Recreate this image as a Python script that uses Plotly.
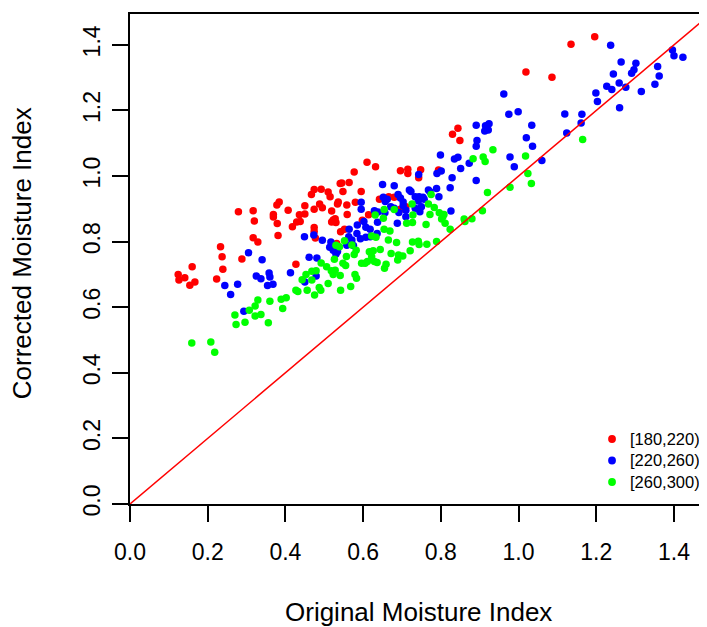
import plotly.graph_objects as go

# ---- data ----
red_x = [0.124, 0.126, 0.141, 0.160, 0.154, 0.167, 0.223, 0.233, 0.237, 0.239,
         0.279, 0.288, 0.317, 0.320, 0.317, 0.329, 0.369, 0.369, 0.378, 0.384,
         0.379, 0.381, 0.407, 0.418, 0.429, 0.438, 0.436, 0.450, 0.450, 0.427,
         0.467, 0.474, 0.492, 0.510, 0.515, 0.474, 0.488, 0.495, 0.474, 0.474,
         0.477, 0.519, 0.523, 0.528, 0.530, 0.519, 0.534, 0.536, 0.541, 0.545,
         0.548, 0.542, 0.552, 0.559, 0.558, 0.532, 0.564, 0.577, 0.595, 0.580,
         0.610, 0.632, 0.642, 0.614, 0.598, 0.666, 0.680, 0.696, 0.715, 0.715,
         0.748, 0.743, 0.794, 0.696, 0.710, 0.830, 0.844, 0.849, 1.019, 1.086,
         1.135, 1.196]
red_y = [0.700, 0.683, 0.690, 0.723, 0.667, 0.677, 0.686, 0.784, 0.754, 0.716,
         0.891, 0.747, 0.894, 0.863, 0.812, 0.799, 0.883, 0.875, 0.912, 0.921,
         0.855, 0.819, 0.896, 0.845, 0.860, 0.861, 0.882, 0.884, 0.909, 0.731,
         0.944, 0.959, 0.960, 0.951, 0.937, 0.899, 0.915, 0.903, 0.843, 0.831,
         0.811, 0.893, 0.866, 0.870, 0.858, 0.860, 0.915, 0.921, 0.977, 0.979,
         0.953, 0.830, 0.838, 0.883, 0.912, 0.794, 0.980, 1.012, 0.953, 0.920,
         1.042, 1.028, 0.929, 0.882, 0.865, 0.937, 0.935, 1.016, 1.021, 1.008,
         1.019, 0.995, 1.018, 0.899, 0.906, 1.127, 1.146, 1.108, 1.317, 1.301,
         1.402, 1.425]

blue_x = [0.244, 0.277, 0.259, 0.293, 0.305, 0.340, 0.325, 0.337, 0.358, 0.360,
          0.354, 0.368, 0.413, 0.450, 0.479, 0.449, 0.473, 0.495, 0.461, 0.481,
          0.517, 0.514, 0.523, 0.534, 0.530, 0.558, 0.563, 0.564, 0.571, 0.575,
          0.593, 0.584, 0.607, 0.618, 0.595, 0.595, 0.629, 0.638, 0.637, 0.602,
          0.585, 0.607, 0.618, 0.636, 0.650, 0.680, 0.652, 0.662, 0.657, 0.690,
          0.696, 0.703, 0.703, 0.719, 0.723, 0.734, 0.744, 0.754, 0.742, 0.757,
          0.768, 0.772, 0.789, 0.795, 0.671, 0.680, 0.692, 0.656, 0.710, 0.710,
          0.734, 0.746, 0.750, 0.688, 0.826, 0.743, 0.790, 0.801, 0.799, 0.835,
          0.844, 0.873, 0.851, 0.829, 0.824, 0.891, 0.891, 0.915, 0.924, 0.913,
          0.922, 0.893, 0.891, 0.962, 0.975, 0.999, 1.034, 1.020, 1.036, 0.978,
          0.989, 1.060, 1.119, 1.124, 1.163, 1.161, 1.199, 1.203, 1.227, 1.240,
          1.259, 1.276, 1.260, 1.316, 1.244, 1.291, 1.297, 1.264, 1.302, 1.237,
          1.358, 1.362, 1.351, 1.396, 1.400, 1.423]
blue_y = [0.666, 0.670, 0.639, 0.588, 0.766, 0.745, 0.695, 0.687, 0.704, 0.692,
          0.666, 0.670, 0.705, 0.677, 0.695, 0.815, 0.820, 0.804, 0.752, 0.750,
          0.799, 0.783, 0.774, 0.770, 0.762, 0.789, 0.815, 0.838, 0.805, 0.788,
          0.809, 0.825, 0.813, 0.815, 0.920, 0.899, 0.894, 0.890, 0.859, 0.861,
          0.851, 0.844, 0.838, 0.825, 0.974, 0.970, 0.935, 0.929, 0.922, 0.944,
          0.933, 0.921, 0.909, 0.957, 0.953, 0.937, 0.937, 0.935, 0.924, 0.929,
          0.957, 0.952, 0.962, 0.937, 0.906, 0.902, 0.889, 0.888, 0.896, 0.876,
          0.902, 0.891, 0.906, 0.856, 0.893, 1.005, 1.008, 1.015, 1.064, 1.052,
          1.057, 1.039, 1.023, 0.995, 0.964, 0.986, 1.155, 1.153, 1.159, 1.137,
          1.140, 1.108, 1.091, 1.250, 1.188, 1.196, 1.155, 1.117, 1.091, 1.058,
          1.028, 1.047, 1.189, 1.131, 1.188, 1.162, 1.253, 1.227, 1.274, 1.264,
          1.284, 1.271, 1.208, 1.258, 1.311, 1.313, 1.324, 1.348, 1.344, 1.399,
          1.334, 1.305, 1.280, 1.384, 1.367, 1.362]

green_x = [0.159, 0.208, 0.218, 0.270, 0.273, 0.296, 0.307, 0.322, 0.329, 0.322,
           0.337, 0.356, 0.360, 0.389, 0.402, 0.393, 0.427, 0.432, 0.456, 0.443,
           0.453, 0.468, 0.468, 0.479, 0.475, 0.487, 0.491, 0.492, 0.506, 0.510,
           0.518, 0.523, 0.528, 0.526, 0.541, 0.542, 0.530, 0.539, 0.552, 0.557,
           0.548, 0.555, 0.568, 0.579, 0.583, 0.577, 0.582, 0.571, 0.596, 0.605,
           0.611, 0.616, 0.626, 0.622, 0.629, 0.636, 0.644, 0.622, 0.633, 0.631,
           0.654, 0.652, 0.680, 0.728, 0.712, 0.727, 0.726, 0.768, 0.783, 0.772,
           0.796, 0.805, 0.808, 0.802, 0.762, 0.811, 0.824, 0.654, 0.669, 0.665,
           0.686, 0.727, 0.742, 0.744, 0.764, 0.789, 0.721, 0.672, 0.691, 0.702,
           0.689, 0.659, 0.655, 0.775, 0.883, 0.909, 0.914, 0.934, 0.920, 1.018,
           1.024, 1.033, 0.978, 1.165, 0.907, 0.860, 0.862, 0.880]
green_y = [0.491, 0.494, 0.463, 0.576, 0.547, 0.554, 0.591, 0.604, 0.622, 0.573,
           0.578, 0.553, 0.618, 0.624, 0.629, 0.596, 0.652, 0.648, 0.652, 0.684,
           0.700, 0.710, 0.683, 0.711, 0.637, 0.660, 0.652, 0.735, 0.723, 0.672,
           0.711, 0.700, 0.713, 0.746, 0.697, 0.652, 0.789, 0.784, 0.803, 0.755,
           0.734, 0.727, 0.663, 0.700, 0.688, 0.761, 0.774, 0.790, 0.734, 0.734,
           0.739, 0.769, 0.772, 0.754, 0.739, 0.736, 0.776, 0.817, 0.813, 0.881,
           0.898, 0.871, 0.898, 0.881, 0.856, 0.858, 0.915, 0.915, 0.904, 0.883,
           0.888, 0.876, 0.883, 0.869, 0.852, 0.856, 0.838, 0.838, 0.832, 0.805,
           0.797, 0.799, 0.801, 0.791, 0.792, 0.800, 0.772, 0.764, 0.759, 0.756,
           0.744, 0.731, 0.719, 0.944, 1.053, 1.058, 1.044, 1.080, 0.950, 1.061,
           1.008, 0.977, 0.966, 1.111, 0.894, 0.869, 0.861, 0.870]

group_names = ["[180,220)", "[220,260)", "[260,300)"]
group_colors = ["#FF0000", "#0000FF", "#00FF00"]

identity_line = [0.0, 1.6]

tick_vals = [0.0, 0.2, 0.4, 0.6, 0.8, 1.0, 1.2, 1.4]
tick_text = ["0.0", "0.2", "0.4", "0.6", "0.8", "1.0", "1.2", "1.4"]

x_title = "Original Moisture Index"
y_title = "Corrected Moisture Index"

FONT = "Liberation Sans, Arial, Helvetica, sans-serif"

fig = go.Figure()

for name, color, xs, ys in zip(group_names, group_colors,
                               [red_x, blue_x, green_x],
                               [red_y, blue_y, green_y]):
    fig.add_trace(go.Scatter(
        x=xs, y=ys, mode="markers", name=name, showlegend=False,
        marker=dict(color=color, size=7.5, line=dict(width=0)),
    ))

fig.add_trace(go.Scatter(
    x=identity_line, y=identity_line, mode="lines",
    line=dict(color="#FF0000", width=1.5), showlegend=False,
    hoverinfo="skip",
))

axis_common = dict(
    showgrid=False, zeroline=False, showline=True,
    linecolor="black", linewidth=1.5,
    ticks="outside", ticklen=16, tickwidth=1.5, tickcolor="black",
    tickvals=tick_vals, ticktext=tick_text,
    tickfont=dict(family=FONT, size=23, color="black"),
)

# legend drawn in the lower-right corner, inside the plot box
legend_marker_x = 0.8354
legend_text_x = 0.8631
legend_rows_y = [0.1327, 0.0888, 0.0449]

shapes = []
annotations = []
for name, color, ly in zip(group_names, group_colors, legend_rows_y):
    shapes.append(dict(
        type="circle", xref="paper", yref="paper",
        xsizemode="pixel", ysizemode="pixel",
        xanchor=legend_marker_x, yanchor=ly,
        x0=-3.9, x1=3.9, y0=-3.9, y1=3.9,
        fillcolor=color, line=dict(width=0),
    ))
    annotations.append(dict(
        text=name, xref="paper", yref="paper", x=legend_text_x, y=ly,
        xanchor="left", yanchor="middle", showarrow=False,
        font=dict(family=FONT, size=16.5, color="black"),
    ))

annotations += [
    dict(text=x_title, xref="paper", yref="paper", x=0.5, y=-0.2204,
         xanchor="center", yanchor="middle", showarrow=False,
         font=dict(family=FONT, size=26, color="black")),
    dict(text=y_title, xref="paper", yref="paper", x=-0.187, y=0.512,
         xanchor="center", yanchor="middle", showarrow=False,
         textangle=-90, font=dict(family=FONT, size=26, color="black")),
]

# the page body has an 8px default margin, so the figure is placed at (8,8)
fig.update_layout(
    width=699, height=619,
    margin=dict(l=122, r=0, t=6, b=123),
    paper_bgcolor="white", plot_bgcolor="white",
    font=dict(family=FONT, color="black"),
    showlegend=False,
    xaxis=dict(range=[0, 1.485], mirror=True, ticklabelstandoff=11,
               **axis_common),
    yaxis=dict(range=[0, 1.494], mirror=False, tickangle=-90,
               ticklabelstandoff=3, **axis_common),
    shapes=shapes,
    annotations=annotations,
)

fig.write_html("out.html")
